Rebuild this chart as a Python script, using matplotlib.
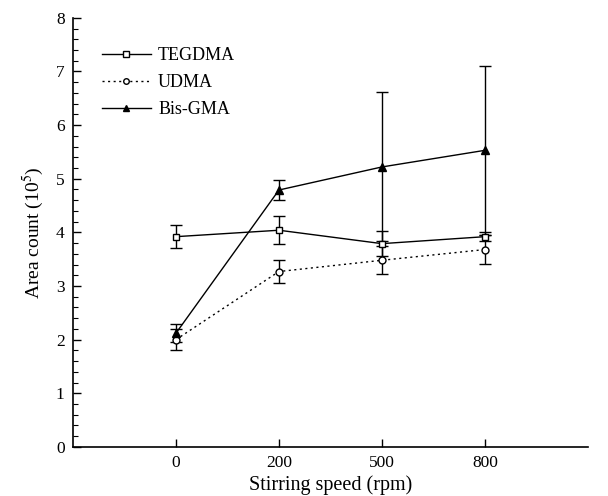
import matplotlib
matplotlib.use("Agg")
import matplotlib.pyplot as plt
from matplotlib.ticker import MultipleLocator
from matplotlib.lines import Line2D

categories = ["0", "200", "500", "800"]
tegdma = [3.92, 4.04, 3.79, 3.92]
tegdma_err = [0.21, 0.26, 0.23, 0.08]
udma = [2.00, 3.27, 3.48, 3.68]
udma_err = [0.19, 0.21, 0.26, 0.27]
bisgma = [2.12, 4.79, 5.22, 5.53]
bisgma_err = [0.17, 0.18, 1.39, 1.57]

plt.rcParams['font.family'] = ['Liberation Serif', 'DejaVu Serif']
plt.rcParams['mathtext.fontset'] = 'stix'

fig = plt.figure(figsize=(6.08, 4.96), dpi=100)
ax = fig.add_axes([0.12, 0.099, 0.847, 0.865])

x = list(range(len(categories)))
common = dict(color='black', ecolor='black', capsize=4.5, elinewidth=1.0, capthick=1.0, lw=1.0)
styles = [
    dict(marker='s', ms=5, mfc='white', mec='black', mew=1.0, ls='-'),
    dict(marker='o', ms=5, mfc='white', mec='black', mew=1.0, ls=(0, (1.5, 2.5))),
    dict(marker='^', ms=6, mfc='black', mec='black', ls='-'),
]
series = [("TEGDMA", tegdma, tegdma_err), ("UDMA", udma, udma_err), ("Bis-GMA", bisgma, bisgma_err)]
handles = []
for (name, vals, errs), st in zip(series, styles):
    ax.errorbar(x, vals, yerr=errs, **st, **common)
    hs = dict(st)
    hs['ms'] = hs['ms'] - 1
    handles.append(Line2D([], [], color='black', lw=1.0, label=name, **hs))

ax.set_xlim(-1, 4)
ax.set_ylim(0, 8)
ax.set_xticks(x)
ax.set_xticklabels(categories)
ax.yaxis.set_major_locator(MultipleLocator(1))
ax.yaxis.set_minor_locator(MultipleLocator(0.2))
ax.tick_params(axis='both', direction='in', labelsize=12.5, width=1.0, length=6, pad=6)
ax.tick_params(axis='y', which='minor', direction='in', length=3.5, width=0.8)
for s in ['top', 'right']:
    ax.spines[s].set_visible(False)
for s in ['left', 'bottom']:
    ax.spines[s].set_linewidth(1.2)

ax.set_xlabel('Stirring speed (rpm)', fontsize=14.5, labelpad=3)
ax.set_ylabel('Area count (10$^5$)', fontsize=14, labelpad=7)

ax.legend(handles=handles, loc='upper left', bbox_to_anchor=(0.025, 0.97), frameon=False,
          fontsize=13, handlelength=2.7, handletextpad=0.4, labelspacing=0.55)

fig.savefig('out.png', dpi=100)
